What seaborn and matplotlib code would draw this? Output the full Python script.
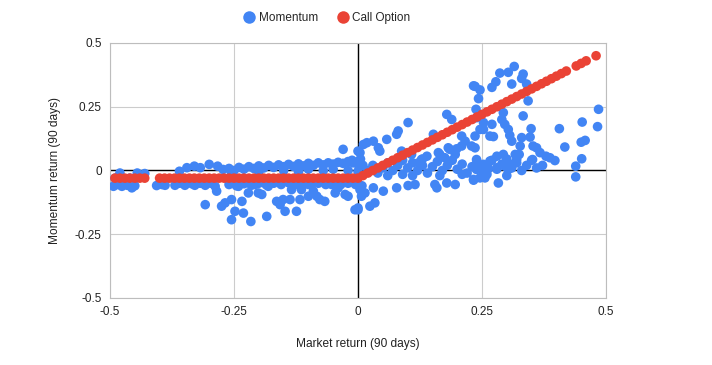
import matplotlib
matplotlib.use("Agg")
import matplotlib.pyplot as plt
from matplotlib.lines import Line2D
import seaborn as sns
import pandas as pd

# Momentum (market return, momentum return) pairs
momentum_points = [
    # far left
    (-0.493, -0.062), (-0.485, -0.055), (-0.476, -0.062), (-0.465, -0.058), (-0.456, -0.068), (-0.45, -0.06),
    (-0.48, -0.01), (-0.445, -0.01), (-0.43, -0.012), (-0.49, -0.03), (-0.46, -0.03),
    (-0.406, -0.059), (-0.395, -0.055), (-0.389, -0.058), (-0.369, -0.058), (-0.36, -0.05), (-0.349, -0.058),
    (-0.335, -0.052), (-0.329, -0.058), (-0.318, -0.05), (-0.308, -0.058), (-0.297, -0.05), (-0.288, -0.062),
    (-0.285, -0.081),
    (-0.36, -0.003), (-0.345, 0.011), (-0.33, 0.017), (-0.318, 0.011), (-0.30, 0.024), (-0.283, 0.017),
    (-0.272, 0.004),
    (-0.308, -0.134), (-0.268, -0.127), (-0.275, -0.14),
    # upper band left of zero
    (-0.26, 0.008), (-0.25, 0.0), (-0.24, 0.012), (-0.23, 0.005), (-0.22, 0.015), (-0.21, 0.008),
    (-0.20, 0.018), (-0.19, 0.01), (-0.18, 0.02), (-0.17, 0.012), (-0.16, 0.022), (-0.15, 0.015),
    (-0.14, 0.024), (-0.13, 0.016), (-0.12, 0.026), (-0.11, 0.018), (-0.10, 0.028), (-0.09, 0.02),
    (-0.08, 0.03), (-0.07, 0.022), (-0.06, 0.03), (-0.05, 0.025), (-0.04, 0.032), (-0.03, 0.028),
    (-0.02, 0.035), (-0.01, 0.03), (0.0, 0.035),
    (-0.255, -0.01), (-0.2, -0.005), (-0.15, 0.0), (-0.1, 0.005), (-0.05, 0.005), (-0.12, -0.005),
    (-0.07, 0.0), (-0.02, 0.0), (-0.012, 0.04), (0.005, 0.045), (0.01, 0.02),
    (-0.03, 0.083), (0.004, 0.07), (0.011, 0.102),
    # lower band left of zero
    (-0.26, -0.055), (-0.245, -0.06), (-0.23, -0.052), (-0.215, -0.058), (-0.2, -0.05), (-0.185, -0.056),
    (-0.17, -0.05), (-0.155, -0.055), (-0.14, -0.048), (-0.125, -0.055), (-0.11, -0.05), (-0.095, -0.056),
    (-0.08, -0.05), (-0.065, -0.055), (-0.05, -0.05), (-0.035, -0.056), (-0.02, -0.05), (-0.005, -0.055),
    (-0.241, -0.062), (-0.221, -0.088), (-0.201, -0.088), (-0.255, -0.114), (-0.234, -0.121),
    (-0.248, -0.16), (-0.231, -0.167), (-0.255, -0.193), (-0.216, -0.2), (-0.184, -0.18),
    (-0.164, -0.121), (-0.151, -0.114), (-0.157, -0.134), (-0.147, -0.16), (-0.124, -0.16),
    (-0.134, -0.075), (-0.114, -0.075), (-0.137, -0.114), (-0.117, -0.114), (-0.09, -0.081),
    (-0.083, -0.101), (-0.077, -0.114), (-0.067, -0.121), (-0.1, -0.055), (-0.1, -0.101),
    (-0.053, -0.055), (-0.04, -0.068), (-0.046, -0.088), (-0.02, -0.101), (-0.026, -0.094),
    (-0.006, -0.154), (0.0, -0.154), (-0.181, -0.062), (-0.194, -0.094), (-0.208, -0.055),
    (0.004, -0.075), (0.008, -0.06),
    # right of zero, above the option line
    (0.0, 0.076), (0.018, 0.109), (0.031, 0.115), (0.041, 0.089), (0.044, 0.076), (0.058, 0.122),
    (0.078, 0.142), (0.081, 0.155), (0.101, 0.188), (0.152, 0.142), (0.179, 0.22), (0.189, 0.2),
    (0.209, 0.135), (0.216, 0.115), (0.185, 0.083), (0.199, 0.085), (0.209, 0.096), (0.229, 0.096),
    (0.236, 0.135), (0.246, 0.161), (0.253, 0.188), (0.239, 0.207), (0.165, 0.063), (0.175, 0.05),
    (0.196, 0.063), (0.088, 0.076), (0.108, 0.063), (0.128, 0.043), (0.139, 0.056), (0.122, 0.03),
    (0.162, 0.07), (0.182, 0.089),
    # right of zero, main band
    (0.0, 0.024), (0.0, -0.003), (0.02, 0.0), (0.03, 0.02), (0.04, -0.01), (0.05, 0.01), (0.06, 0.03),
    (0.07, 0.0), (0.08, 0.02), (0.09, 0.04), (0.09, -0.015), (0.10, 0.01), (0.11, 0.03), (0.12, 0.0),
    (0.13, 0.02), (0.13, 0.045), (0.14, -0.01), (0.15, 0.015), (0.16, 0.035), (0.17, 0.0), (0.18, 0.02),
    (0.19, 0.04), (0.2, 0.005), (0.21, 0.025), (0.22, -0.01), (0.23, 0.015), (0.24, 0.035), (0.25, 0.0),
    (0.26, 0.02), (0.27, 0.04), (0.28, 0.005), (0.29, 0.025), (0.30, 0.045), (0.31, 0.01), (0.32, 0.03),
    (0.33, 0.0), (0.34, 0.02), (0.35, 0.04), (0.36, 0.01),
    (0.06, -0.02), (0.11, -0.02), (0.165, -0.02), (0.21, -0.015), (0.26, -0.015), (0.3, -0.02),
    # right of zero, below the band
    (0.078, -0.068), (0.101, -0.059), (0.115, -0.055), (0.155, -0.055), (0.159, -0.068), (0.179, -0.049),
    (0.196, -0.055), (0.233, -0.035), (0.246, -0.029), (0.031, -0.068), (0.014, -0.088), (0.007, -0.101),
    (0.051, -0.081), (0.034, -0.127), (0.024, -0.14), (0.0, -0.147),
    # upper right cluster
    (0.233, 0.332), (0.246, 0.316), (0.236, 0.33), (0.243, 0.282), (0.238, 0.24), (0.27, 0.326),
    (0.278, 0.348), (0.286, 0.382), (0.303, 0.385), (0.315, 0.408), (0.31, 0.339), (0.333, 0.378),
    (0.33, 0.361), (0.34, 0.339), (0.343, 0.273), (0.333, 0.214), (0.293, 0.227), (0.29, 0.2),
    (0.296, 0.181), (0.303, 0.161), (0.306, 0.138), (0.31, 0.115), (0.27, 0.181), (0.253, 0.161),
    (0.266, 0.135), (0.273, 0.133), (0.236, 0.089), (0.349, 0.164), (0.347, 0.131),
    (0.33, 0.129), (0.327, 0.096), (0.325, 0.063), (0.32, 0.043), (0.31, 0.024), (0.303, 0.004),
    (0.317, 0.063), (0.296, 0.017), (0.239, 0.043), (0.253, 0.024), (0.266, 0.037), (0.28, 0.056),
    (0.293, 0.063), (0.239, 0.004), (0.263, 0.007), (0.28, 0.011), (0.256, -0.029), (0.233, -0.038),
    (0.283, -0.049),
    # far right
    (0.353, 0.096), (0.36, 0.089), (0.367, 0.07), (0.352, 0.043), (0.372, 0.02), (0.379, 0.056),
    (0.387, 0.05), (0.397, 0.039), (0.406, 0.164), (0.417, 0.092), (0.439, 0.017), (0.439, -0.025),
    (0.451, 0.046), (0.45, 0.111), (0.458, 0.118), (0.452, 0.19), (0.483, 0.172), (0.485, 0.24),
]

# Call option payoff points
call_x = [
    -0.49, -0.48, -0.47, -0.46, -0.45, -0.44, -0.43,
    -0.40, -0.39, -0.38, -0.37, -0.36, -0.35, -0.34, -0.33, -0.32, -0.31, -0.30,
    -0.29, -0.28, -0.27, -0.26, -0.25, -0.24, -0.23, -0.22, -0.21, -0.20,
    -0.19, -0.18, -0.17, -0.16, -0.15, -0.14, -0.13, -0.12, -0.11, -0.10,
    -0.09, -0.08, -0.07, -0.06, -0.05, -0.04, -0.03, -0.02, -0.01, 0.00,
    0.01, 0.02, 0.03, 0.04, 0.05, 0.06, 0.07, 0.08, 0.09, 0.10,
    0.11, 0.12, 0.13, 0.14, 0.15, 0.16, 0.17, 0.18, 0.19, 0.20,
    0.21, 0.22, 0.23, 0.24, 0.25, 0.26, 0.27, 0.28, 0.29, 0.30,
    0.31, 0.32, 0.33, 0.34, 0.35, 0.36, 0.37, 0.38, 0.39, 0.40,
    0.41, 0.42, 0.44, 0.45, 0.46, 0.48,
]
call_y = [
    -0.03, -0.03, -0.03, -0.03, -0.03, -0.03, -0.03,
    -0.03, -0.03, -0.03, -0.03, -0.03, -0.03, -0.03, -0.03, -0.03, -0.03, -0.03,
    -0.03, -0.03, -0.03, -0.03, -0.03, -0.03, -0.03, -0.03, -0.03, -0.03,
    -0.03, -0.03, -0.03, -0.03, -0.03, -0.03, -0.03, -0.03, -0.03, -0.03,
    -0.03, -0.03, -0.03, -0.03, -0.03, -0.03, -0.03, -0.03, -0.03, -0.03,
    -0.02, -0.01, 0.00, 0.01, 0.02, 0.03, 0.04, 0.05, 0.06, 0.07,
    0.08, 0.09, 0.10, 0.11, 0.12, 0.13, 0.14, 0.15, 0.16, 0.17,
    0.18, 0.19, 0.20, 0.21, 0.22, 0.23, 0.24, 0.25, 0.26, 0.27,
    0.28, 0.29, 0.30, 0.31, 0.32, 0.33, 0.34, 0.35, 0.36, 0.37,
    0.38, 0.39, 0.41, 0.42, 0.43, 0.45,
]

axis_ticks = [-0.5, -0.25, 0, 0.25, 0.5]
tick_labels = ["-0.5", "-0.25", "0", "0.25", "0.5"]

BLUE = "#4285F4"
RED = "#EA4335"

sns.set_style("white")
plt.rcParams["font.family"] = ["Liberation Sans", "DejaVu Sans"]

mom = pd.DataFrame(momentum_points, columns=["market", "momentum"])
call = pd.DataFrame({"market": call_x, "option": call_y})

fig = plt.figure(figsize=(7.12, 3.65), dpi=100)
ax = fig.add_axes([0.1545, 0.1836, 0.6966, 0.6986])

sns.scatterplot(data=mom, x="market", y="momentum", ax=ax, color=BLUE,
                s=48, edgecolor="none", linewidth=0, zorder=3)
sns.scatterplot(data=call, x="market", y="option", ax=ax, color=RED,
                s=48, edgecolor="none", linewidth=0, zorder=4)

ax.set_xlim(-0.5, 0.5)
ax.set_ylim(-0.5, 0.5)
ax.set_xticks(axis_ticks)
ax.set_xticklabels(tick_labels)
ax.set_yticks(axis_ticks)
ax.set_yticklabels(tick_labels)
ax.tick_params(length=0, labelsize=8.5, colors="#222222", pad=6)

ax.grid(True, color="#cccccc", linewidth=0.8, zorder=0)
ax.axhline(0, color="black", linewidth=1, zorder=2)
ax.axvline(0, color="black", linewidth=1, zorder=2)
for sp in ax.spines.values():
    sp.set_color("#bdbdbd")
    sp.set_linewidth(0.8)

ax.set_xlabel("Market return (90 days)", fontsize=8.6, color="#222222", labelpad=14)
ax.set_ylabel("Momentum return (90 days)", fontsize=8.6, color="#222222", labelpad=10)

handles = [
    Line2D([], [], marker="o", linestyle="none", markersize=9, color=BLUE, markeredgewidth=0),
    Line2D([], [], marker="o", linestyle="none", markersize=9, color=RED, markeredgewidth=0),
]
fig.legend(handles, ["Momentum", "Call Option"], loc="center",
           bbox_to_anchor=(327 / 712, 1 - 18 / 365), ncol=2, frameon=False,
           fontsize=8.5, handletextpad=0.3, columnspacing=1.6, handlelength=1.0)

fig.savefig("out.png", dpi=100)
